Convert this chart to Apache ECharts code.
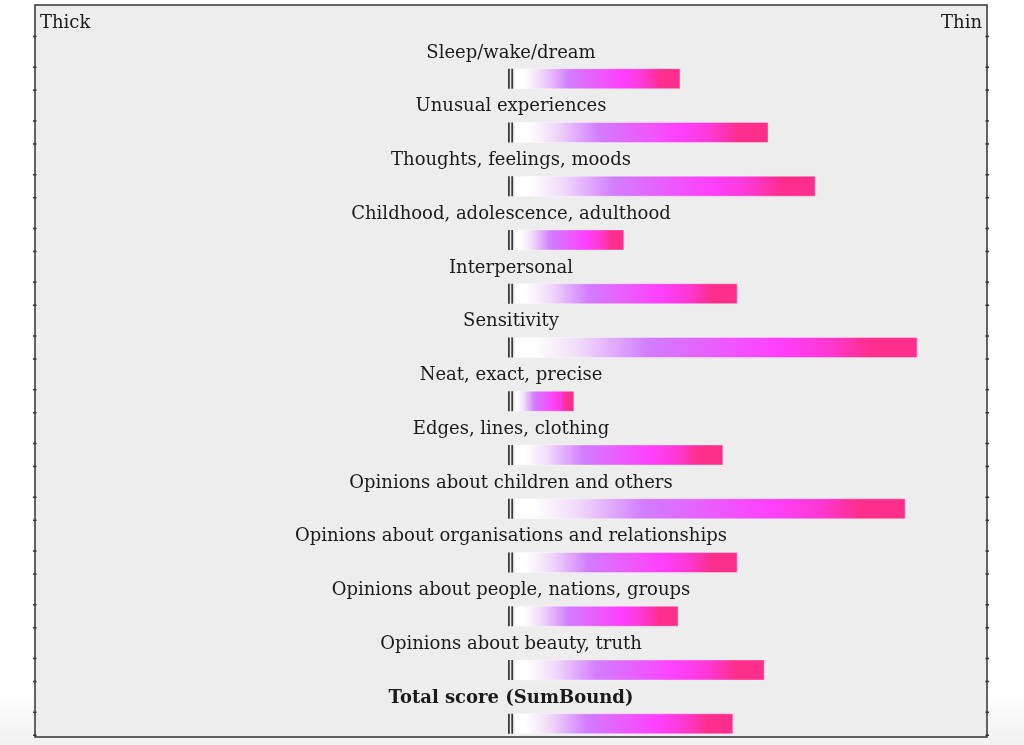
<!DOCTYPE html>
<html><head><meta charset="utf-8">
<script src="https://cdn.jsdelivr.net/npm/echarts@6/dist/echarts.min.js"></script>
<style>html,body{margin:0;padding:0;background:#fff}#c{width:1024px;height:745px}</style>
</head><body><div id="c"></div>
<script>
const categories = [
  'Sleep/wake/dream',
  'Unusual experiences',
  'Thoughts, feelings, moods',
  'Childhood, adolescence, adulthood',
  'Interpersonal',
  'Sensitivity',
  'Neat, exact, precise',
  'Edges, lines, clothing',
  'Opinions about children and others',
  'Opinions about organisations and relationships',
  'Opinions about people, nations, groups',
  'Opinions about beauty, truth',
  'Total score (SumBound)'
];
const scores = [35.5, 54.0, 63.9, 23.7, 47.5, 85.3, 13.2, 44.5, 82.8, 47.5, 35.1, 53.2, 46.6];
const boldCategory = 'Total score (SumBound)';
const leftEndLabel = 'Thick';
const rightEndLabel = 'Thin';
const axisMin = -100, axisMax = 100;

const FONT_FAMILY = '"DejaVu Serif", serif';
const FONT_SIZE = 18;
const TEXT_COLOR = '#1a1a1a';
const gradStops = [
  {offset: 0, color: '#ffffff'},
  {offset: 0.05, color: '#ffffff'},
  {offset: 0.16, color: '#f1daf9'},
  {offset: 0.33, color: '#d27dff'},
  {offset: 0.5, color: '#ea5cff'},
  {offset: 0.65, color: '#ff40ff'},
  {offset: 0.78, color: '#ff38d2'},
  {offset: 0.88, color: '#ff2e8e'},
  {offset: 1, color: '#ff2e8c'}
];

const chart = echarts.init(document.getElementById('c'), null, {renderer: 'canvas'});

function renderItem(params, api) {
  const idx = api.value(1);
  const v = api.value(0);
  const name = categories[idx];
  const c0 = api.coord([0, idx]);
  const c1 = api.coord([v, idx]);
  const band = api.size([0, 1])[1];
  const labelY = c0[1] - band * 0.25 + 1;
  const barY = c0[1] + band * 0.25;
  const bh = 20;
  const leftX = api.coord([axisMin, idx])[0];
  const rightX = api.coord([axisMax, idx])[0];
  const barStart = c0[0] + 4;
  const children = [
    {
      type: 'text', x: c0[0], y: labelY,
      style: {
        text: name, fill: TEXT_COLOR, align: 'center', verticalAlign: 'middle',
        font: (name === boldCategory ? 'bold ' : '') + FONT_SIZE + 'px ' + FONT_FAMILY
      }
    },
    {type: 'rect', shape: {x: c0[0] - 3, y: barY - bh / 2, width: 1.8, height: bh}, style: {fill: '#3a3a3a'}},
    {type: 'rect', shape: {x: c0[0] + 0.3, y: barY - bh / 2, width: 1.8, height: bh}, style: {fill: '#3a3a3a'}},
    {
      type: 'rect',
      shape: {x: barStart, y: barY - bh / 2, width: Math.max(0, c1[0] - barStart), height: bh},
      style: {
        fill: new echarts.graphic.LinearGradient(0, 0, 1, 0, gradStops),
        stroke: 'rgba(255,255,255,0.35)', lineWidth: 1
      }
    }
  ];
  const tickYs = [barY - bh / 2 - 1.5, barY + bh / 2 + 1.5];
  if (idx === 0) tickYs.push(barY + bh / 2 + 1.5 - band);
  tickYs.forEach(function (ty) {
    children.push({type: 'line', shape: {x1: leftX - 2, y1: ty, x2: leftX + 1.5, y2: ty}, style: {stroke: '#333', lineWidth: 1.5}});
    children.push({type: 'line', shape: {x1: rightX - 1.5, y1: ty, x2: rightX + 2, y2: ty}, style: {stroke: '#333', lineWidth: 1.5}});
  });
  return {type: 'group', children: children};
}

const option = {
  animation: false,
  backgroundColor: new echarts.graphic.LinearGradient(0, 0, 0, 1, [
    {offset: 0, color: '#ffffff'}, {offset: 0.93, color: '#ffffff'}, {offset: 1, color: '#f1f1f1'}
  ]),
  grid: [
    {left: 35, right: 37, top: 5, bottom: 8, show: true, backgroundColor: '#ededed', borderColor: '#333', borderWidth: 1.5},
    {left: 35, right: 37, top: 38.4, bottom: 7.8}
  ],
  xAxis: [
    {type: 'value', gridIndex: 0, min: axisMin, max: axisMax, show: false},
    {type: 'value', gridIndex: 1, min: axisMin, max: axisMax, show: false}
  ],
  yAxis: [
    {type: 'value', gridIndex: 0, show: false},
    {type: 'category', gridIndex: 1, data: categories, inverse: true, show: false}
  ],
  graphic: [
    {type: 'text', x: 40, y: 23, style: {text: leftEndLabel, fill: TEXT_COLOR, align: 'left', verticalAlign: 'middle', font: FONT_SIZE + 'px ' + FONT_FAMILY}},
    {type: 'text', x: 982, y: 23, style: {text: rightEndLabel, fill: TEXT_COLOR, align: 'right', verticalAlign: 'middle', font: FONT_SIZE + 'px ' + FONT_FAMILY}}
  ],
  series: [{
    type: 'custom',
    xAxisIndex: 1, yAxisIndex: 1,
    clip: false,
    renderItem: renderItem,
    encode: {x: 0, y: 1},
    data: scores.map(function (s, i) { return [s, i]; })
  }]
};
chart.setOption(option);
</script></body></html>
